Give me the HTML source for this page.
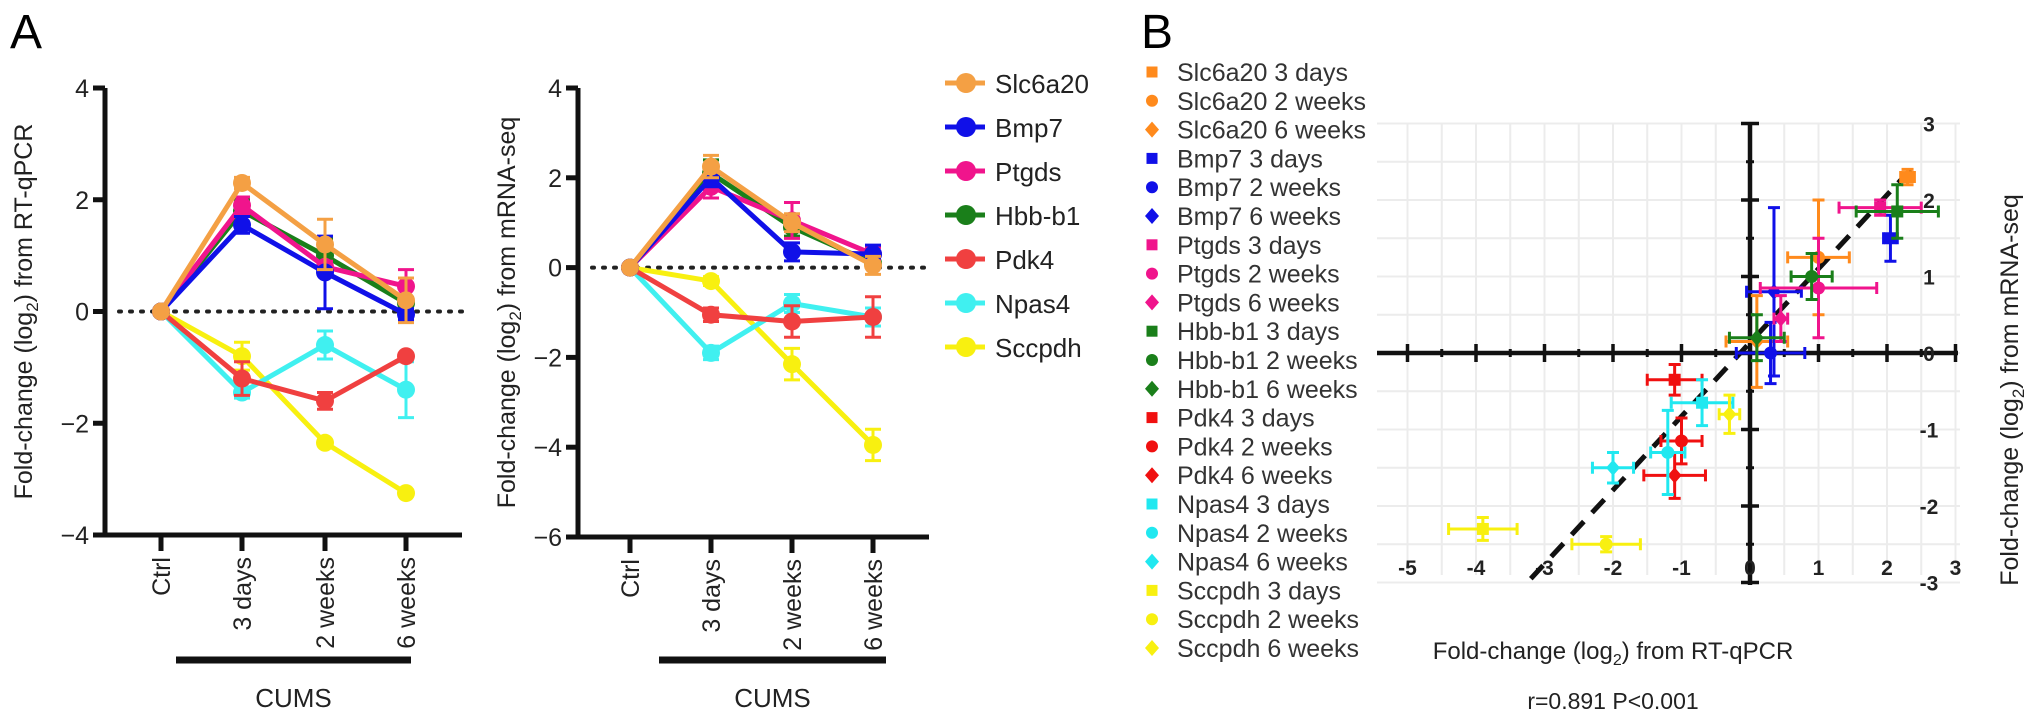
<!DOCTYPE html>
<html><head><meta charset="utf-8"><style>
html,body{margin:0;padding:0;background:#fff;}
svg{display:block;font-family:"Liberation Sans",Arial,sans-serif;}
</style></head><body>
<svg id="fig" width="2032" height="722" viewBox="0 0 2032 722" xmlns="http://www.w3.org/2000/svg">
<text x="10" y="48" font-size="48">A</text>
<text x="1141" y="48" font-size="48">B</text>
<g id="a1"></g>
<g id="a2"></g>
<g id="alegend"></g>
<g id="b"></g>
<g id="blegend"></g>
</svg>
<script>
const categories = ["Ctrl","3 days","2 weeks","6 weeks"];
const genes = ["Slc6a20","Bmp7","Ptgds","Hbb-b1","Pdk4","Npas4","Sccpdh"];
const colorsA = ["#f4a044","#1010e8","#f0148c","#1a7f1a","#f04040","#40f0f0","#f8f010"];
const colorsB = ["#ff8a1c","#1010e8","#f0148c","#1a7f1a","#f01010","#20e8f0","#f8f010"];
const qpcr_slc6a20 = [0,2.3,1.2,0.2];
const qpcr_bmp7 = [0,1.55,0.7,-0.05];
const qpcr_ptgds = [0,1.9,0.8,0.45];
const qpcr_hbb = [0,1.8,1.0,0.15];
const qpcr_pdk4 = [0,-1.2,-1.6,-0.8];
const qpcr_npas4 = [0,-1.45,-0.6,-1.4];
const qpcr_sccpdh = [0,-0.8,-2.35,-3.25];
const qpcr_err = [[0,0.1,0.45,0.4],[0,0.15,0.65,0.1],[0,0.15,0.1,0.3],[0,0.2,0.3,0.1],[0,0.3,0.15,0.05],[0,0.1,0.25,0.5],[0,0.25,0.05,0.05]];
const seq_slc6a20 = [0,2.25,1.0,0.05];
const seq_bmp7 = [0,2.0,0.35,0.3];
const seq_ptgds = [0,1.8,1.05,0.3];
const seq_hbb = [0,2.1,0.9,0.1];
const seq_pdk4 = [0,-1.05,-1.2,-1.1];
const seq_npas4 = [0,-1.9,-0.8,-1.1];
const seq_sccpdh = [0,-0.3,-2.15,-3.95];
const seq_err = [[0,0.25,0.2,0.2],[0,0.2,0.2,0.2],[0,0.25,0.4,0.15],[0,0.3,0.2,0.1],[0,0.15,0.35,0.45],[0,0.15,0.2,0.2],[0,0.1,0.35,0.35]];
const ticksA1 = [4,2,0,-2,-4];
const ticksA2 = [4,2,0,-2,-4,-6];
const bLabels = ["Slc6a20 3 days","Slc6a20 2 weeks","Slc6a20 6 weeks","Bmp7 3 days","Bmp7 2 weeks","Bmp7 6 weeks","Ptgds 3 days","Ptgds 2 weeks","Ptgds 6 weeks","Hbb-b1 3 days","Hbb-b1 2 weeks","Hbb-b1 6 weeks","Pdk4 3 days","Pdk4 2 weeks","Pdk4 6 weeks","Npas4 3 days","Npas4 2 weeks","Npas4 6 weeks","Sccpdh 3 days","Sccpdh 2 weeks","Sccpdh 6 weeks"];
const bX = [2.3,1.0,0.1, 2.05,0.3,0.35, 1.9,1.0,0.45, 2.15,0.9,0.1, -1.1,-1.0,-1.1, -0.7,-1.2,-2.0, -3.9,-2.1,-0.3];
const bY = [2.3,1.25,0.15, 1.5,0.0,0.8, 1.9,0.85,0.45, 1.85,1.0,0.2, -0.35,-1.15,-1.6, -0.65,-1.3,-1.5, -2.3,-2.5,-0.8];
const bXerr = [0.1,0.45,0.45, 0.1,0.5,0.4, 0.6,0.85,0.1, 0.6,0.3,0.4, 0.4,0.3,0.45, 0.45,0.25,0.3, 0.5,0.5,0.15];
const bYerr = [0.1,0.75,0.6, 0.3,0.4,1.1, 0.1,0.65,0.3, 0.35,0.3,0.3, 0.2,0.3,0.3, 0.3,0.55,0.2, 0.15,0.1,0.25];
const bXticks = [-5,-4,-3,-2,-1,0,1,2,3];
const bYticks = [3,2,1,0,-1,-2,-3];
const regLine = [[-3.2,-2.95],[2.45,2.5]];

const NS="http://www.w3.org/2000/svg";
function mk(p,tag,attrs,txt){const e=document.createElementNS(NS,tag);for(const k in attrs)e.setAttribute(k,attrs[k]);if(txt!==undefined)e.textContent=txt;p.appendChild(e);return e;}

function lineChart(gid, series, errs, ticks, ax, yTop, yBot, vTop, vBot, xs, xEnd, title, titleX, barX0, barX1, nm){
  const g=document.getElementById(gid);
  const ys=v=>yTop+(vTop-v)*(yBot-yTop)/(vTop-vBot);
  const xsc=i=>xs[i];
  let e=mk(g,'line',{x1:ax,y1:yTop,x2:ax,y2:yBot+2.5,stroke:'#111','stroke-width':5});
   
  e=mk(g,'line',{x1:ax,y1:yBot,x2:xEnd,y2:yBot,stroke:'#111','stroke-width':5});
   
  ticks.forEach(t=>{
    mk(g,'line',{x1:ax-12,y1:ys(t),x2:ax,y2:ys(t),stroke:'#111','stroke-width':5});
    e=mk(g,'text',{x:ax-16,y:ys(t)+9,'font-size':25,'text-anchor':'end',fill:'#222'},t<0?'\u2212'+(-t):String(t));
     
  });
  categories.forEach((c,i)=>{
    mk(g,'line',{x1:xsc(i),y1:yBot,x2:xsc(i),y2:yBot+16,stroke:'#111','stroke-width':5});
    e=mk(g,'text',{x:0,y:0,'font-size':25,'text-anchor':'end',fill:'#222',transform:`translate(${xsc(i)+9},${yBot+22}) rotate(-90)`},c);
     
  });
  e=mk(g,'line',{x1:ax+14,y1:ys(0),x2:xEnd,y2:ys(0),stroke:'#222','stroke-width':4,'stroke-dasharray':'2 9','stroke-linecap':'round'});
   
  e=mk(g,'text',{x:0,y:0,'font-size':25,'text-anchor':'middle',fill:'#222',transform:`translate(${titleX+9},${(yTop+yBot)/2}) rotate(-90)`});
  e.innerHTML='Fold-change (log<tspan font-size="17" dy="6">2</tspan><tspan dy="-6">) from '+title+'</tspan>';
   
  e=mk(g,'line',{x1:barX0,y1:660,x2:barX1,y2:660,stroke:'#111','stroke-width':7});
   
  e=mk(g,'text',{x:(barX0+barX1)/2,y:707,'font-size':26,'text-anchor':'middle',fill:'#222'},'CUMS');
   
  for(let s=series.length-1;s>=0;s--){
    const col=colorsA[s], vals=series[s];
    const sg=mk(g,'g',{});
    
    
    vals.forEach((v,i)=>{
      const er=errs[s][i]; if(er>0){
        mk(sg,'path',{d:`M${xsc(i)},${ys(v+er)}V${ys(v-er)}M${xsc(i)-8},${ys(v+er)}h16M${xsc(i)-8},${ys(v-er)}h16`,stroke:col,'stroke-width':3,fill:'none'});
      }
    });
    mk(sg,'polyline',{points:vals.map((v,i)=>xsc(i)+','+ys(v)).join(' '),stroke:col,'stroke-width':5,fill:'none'});
    vals.forEach((v,i)=>{
      const c=mk(sg,'circle',{cx:xsc(i),cy:ys(v),r:9,fill:col});
       
    });
  }
}
lineChart('a1',[qpcr_slc6a20,qpcr_bmp7,qpcr_ptgds,qpcr_hbb,qpcr_pdk4,qpcr_npas4,qpcr_sccpdh],qpcr_err,ticksA1,105,88,535,4,-4,[161,242,325,406],462,'RT-qPCR',23,176,411,'qpcr');
lineChart('a2',[seq_slc6a20,seq_bmp7,seq_ptgds,seq_hbb,seq_pdk4,seq_npas4,seq_sccpdh],seq_err,ticksA2,578,88,537,4,-6,[630,711,792,873],929,'mRNA-seq',506,659,886,'seq');

(function(){
  const g=document.getElementById('alegend');
  genes.forEach((n,i)=>{
    const y=83+i*44;
    const eg=mk(g,'g',{});
    
    
    mk(eg,'line',{x1:945,y1:y,x2:985,y2:y,stroke:colorsA[i],'stroke-width':5});
    mk(eg,'circle',{cx:966,cy:y,r:10,fill:colorsA[i]});
    mk(eg,'text',{x:995,y:y+10,'font-size':26,fill:'#222'},n);
  });
})();

(function(){
  const g=document.getElementById('b');
  const x0=1750, ux=68.5, y0=353, uy=76.5;
  const X=v=>x0+v*ux, Y=v=>y0-v*uy;
  let e;
  for(let v=-5;v<=3;v+=0.5){mk(g,'line',{x1:X(v),y1:123,x2:X(v),y2:575,stroke:'#ececec','stroke-width':2});}
  for(let v=-3;v<=3;v+=0.5){mk(g,'line',{x1:1377,y1:Y(v),x2:1960,y2:Y(v),stroke:'#ececec','stroke-width':2});}
  e=mk(g,'line',{x1:1377,y1:y0,x2:1958,y2:y0,stroke:'#111','stroke-width':4.5});
   
  e=mk(g,'line',{x1:x0,y1:123,x2:x0,y2:585,stroke:'#111','stroke-width':4.5});
   
  for(let v=-5;v<=3.01;v+=0.5){const big=Number.isInteger(v);mk(g,'line',{x1:X(v),y1:y0-(big?9:4),x2:X(v),y2:y0+(big?9:4),stroke:'#111','stroke-width':big?3.5:3});}
  for(let v=-3;v<=3.01;v+=0.5){const big=Number.isInteger(v);mk(g,'line',{x1:x0-(big?9:4),y1:Y(v),x2:x0+(big?9:4),y2:Y(v),stroke:'#111','stroke-width':big?3.5:3});}
  bXticks.forEach(t=>{e=mk(g,'text',{x:X(t),y:575,'font-size':21,'font-weight':'bold','text-anchor':'middle',fill:'#222'},String(t));
     });
  bYticks.forEach(t=>{e=mk(g,'text',{x:1929,y:Y(t)+8,'font-size':21,'font-weight':'bold','text-anchor':'middle',fill:'#222'},String(t));
     });
  e=mk(g,'line',{x1:X(regLine[0][0]),y1:Y(regLine[0][1]),x2:X(regLine[1][0]),y2:Y(regLine[1][1]),stroke:'#111','stroke-width':5,'stroke-dasharray':'18 12'});
   
  bX.forEach((xv,i)=>{
    const col=colorsB[Math.floor(i/3)], px=X(xv), py=Y(bY[i]), ex=bXerr[i]*ux, ey=bYerr[i]*uy;
    const pg=mk(g,'g',{});
    
    
    mk(pg,'path',{d:`M${px-ex},${py}H${px+ex}M${px-ex},${py-6}v12M${px+ex},${py-6}v12M${px},${py-ey}V${py+ey}M${px-6},${py-ey}h12M${px-6},${py+ey}h12`,stroke:col,'stroke-width':3,fill:'none'});
    const k=i%3;
    if(k===0) mk(pg,'rect',{x:px-6,y:py-6,width:12,height:12,fill:col});
    else if(k===1) mk(pg,'circle',{cx:px,cy:py,r:6.5,fill:col});
    else mk(pg,'path',{d:`M${px},${py-8}L${px+7},${py}L${px},${py+8}L${px-7},${py}Z`,fill:col});
  });
  e=mk(g,'text',{x:1613,y:659,'font-size':24,'text-anchor':'middle',fill:'#222'});
  e.innerHTML='Fold-change (log<tspan font-size="16" dy="6">2</tspan><tspan dy="-6">) from RT-qPCR</tspan>';
   
  e=mk(g,'text',{x:1613,y:709,'font-size':23,'text-anchor':'middle',fill:'#222'},'r=0.891 P<0.001');
   
  e=mk(g,'text',{x:0,y:0,'font-size':25,'text-anchor':'middle',fill:'#222',transform:'translate(2018,390) rotate(-90)'});
  e.innerHTML='Fold-change (log<tspan font-size="17" dy="6">2</tspan><tspan dy="-6">) from mRNA-seq</tspan>';
   
})();

(function(){
  const g=document.getElementById('blegend');
  bLabels.forEach((n,i)=>{
    const y=72+i*28.8;
    const col=colorsB[Math.floor(i/3)], k=i%3, px=1152;
    const eg=mk(g,'g',{});
    
    
    if(k===0) mk(eg,'rect',{x:px-5.5,y:y-5.5,width:11,height:11,fill:col});
    else if(k===1) mk(eg,'circle',{cx:px,cy:y,r:6,fill:col});
    else mk(eg,'path',{d:`M${px},${y-8}L${px+7},${y}L${px},${y+8}L${px-7},${y}Z`,fill:col});
    mk(eg,'text',{x:1177,y:y+9,'font-size':25,fill:'#333'},n);
  });
})();
</script>
</body></html>
